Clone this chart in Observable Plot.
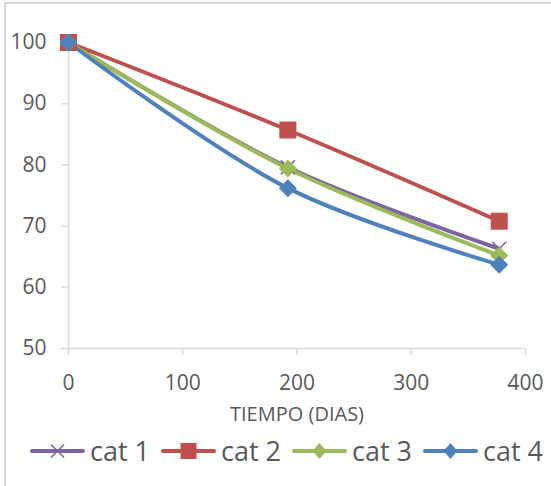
<!DOCTYPE html>
<html>
<head>
<meta charset="utf-8">
<script src="https://cdn.jsdelivr.net/npm/d3@7"></script>
<script src="https://cdn.jsdelivr.net/npm/@observablehq/plot@0.6"></script>
<style>
  html, body { margin: 0; padding: 0; background: #fff; overflow: hidden; width: 551px; height: 486px; }
  #wrap { position: relative; width: 551px; height: 486px; font-family: "Open Sans", sans-serif; }
  #border { position: absolute; left: 4px; top: 2px; width: 700px; height: 700px; border: 2px solid #D9D9D9; box-sizing: border-box; }
  #chart { position: absolute; left: 0; top: 0; }
  #legend { position: absolute; left: 30px; top: 437px; height: 28px; display: flex; align-items: center; }
  .item { display: flex; align-items: center; width: 131px; }
  .item span { font-size: 27px; color: #595959; margin-left: 5px; line-height: 28px; }
</style>
</head>
<body>
<div id="wrap">
  <div id="border"></div>
  <div id="chart"></div>
  <div id="legend"></div>
</div>
<script>
const days = [0, 192, 377];
const seriesNames = ["cat 1", "cat 2", "cat 3", "cat 4"];
const cat1 = [100, 79.6, 66.3];
const cat2 = [100, 85.7, 70.8];
const cat3 = [100, 79.4, 65.2];
const cat4 = [100, 76.2, 63.7];
const xTicks = [0, 100, 200, 300, 400];
const yTicks = [50, 60, 70, 80, 90, 100];
const xLabel = "TIEMPO (DIAS)";

const colors = ["#8064A2", "#C0504D", "#9BBB59", "#4F81BD"];
const allValues = [cat1, cat2, cat3, cat4];

const rows = [];
seriesNames.forEach((name, i) => {
  days.forEach((d, j) => rows.push({series: name, day: d, value: allValues[i][j]}));
});

// custom symbols: r passed to dot = half-width in px
const half = size => Math.sqrt(size / Math.PI);
const squareSym = { draw(ctx, size) { const r = half(size); ctx.rect(-r, -r, 2 * r, 2 * r); } };
const diamondSym = { draw(ctx, size) { const r = half(size); ctx.moveTo(0, -r); ctx.lineTo(r, 0); ctx.lineTo(0, r); ctx.lineTo(-r, 0); ctx.closePath(); } };
const timesSym = { draw(ctx, size) { const r = half(size); ctx.moveTo(-r, -r); ctx.lineTo(r, r); ctx.moveTo(r, -r); ctx.lineTo(-r, r); } };

const markerSpec = [
  {symbol: timesSym, r: 7, strokeW: 1.6, isStroke: true},
  {symbol: squareSym, r: 8.5},
  {symbol: diamondSym, r: 9},
  {symbol: diamondSym, r: 9}
];

const marks = [
  Plot.axisY({ticks: yTicks, tickSize: 7, tickPadding: 15, stroke: "#D9D9D9", strokeWidth: 1.5,
    color: "#595959", fontSize: 21, label: null}),
  Plot.axisX({ticks: xTicks, tickSize: 7, tickPadding: 20, stroke: "#D9D9D9", strokeWidth: 1.5,
    color: "#595959", fontSize: 21, tickFormat: d => String(d),
    label: xLabel, labelAnchor: "center", labelArrow: "none", labelOffset: 72}),
  Plot.ruleX([0], {stroke: "#D9D9D9", strokeWidth: 1.5}),
  Plot.ruleY([50], {stroke: "#D9D9D9", strokeWidth: 1.5}),
];

seriesNames.forEach((name, i) => {
  const data = rows.filter(r => r.series === name);
  marks.push(Plot.line(data, {x: "day", y: "value", stroke: colors[i], strokeWidth: 4, curve: "catmull-rom"}));
});
seriesNames.forEach((name, i) => {
  const data = rows.filter(r => r.series === name);
  const m = markerSpec[i];
  if (m.isStroke) {
    marks.push(Plot.dot(data, {x: "day", y: "value", symbol: m.symbol, r: m.r, fill: "none", stroke: colors[i], strokeWidth: m.strokeW}));
  } else {
    marks.push(Plot.dot(data, {x: "day", y: "value", symbol: m.symbol, r: m.r, fill: colors[i], stroke: "none"}));
  }
});

const chart = Plot.plot({
  width: 551,
  height: 437,
  marginLeft: 68,
  marginRight: 26,
  marginTop: 42,
  marginBottom: 89,
  style: {fontFamily: "'Open Sans', sans-serif", fontSize: "20px", color: "#595959", background: "transparent", overflow: "visible"},
  x: {domain: [0, 400]},
  y: {domain: [50, 100]},
  marks
});
chart.querySelectorAll("[aria-label='x-axis label'] text, g[aria-label='x-axis label']").forEach(el => el.setAttribute("font-size", 20));
document.getElementById("chart").appendChild(chart);

// legend
const legend = document.getElementById("legend");
const ns = "http://www.w3.org/2000/svg";
seriesNames.forEach((name, i) => {
  const item = document.createElement("div");
  item.className = "item";
  const svg = document.createElementNS(ns, "svg");
  svg.setAttribute("width", 55);
  svg.setAttribute("height", 24);
  const line = document.createElementNS(ns, "line");
  line.setAttribute("x1", 2); line.setAttribute("x2", 53);
  line.setAttribute("y1", 12); line.setAttribute("y2", 12);
  line.setAttribute("stroke", colors[i]); line.setAttribute("stroke-width", 4);
  line.setAttribute("stroke-linecap", "round");
  svg.appendChild(line);
  const cx = 27.5, cy = 12;
  let shape;
  if (i === 0) {
    shape = document.createElementNS(ns, "path");
    const r = 6.5;
    shape.setAttribute("d", `M${cx - r},${cy - r}L${cx + r},${cy + r}M${cx + r},${cy - r}L${cx - r},${cy + r}`);
    shape.setAttribute("stroke", colors[i]); shape.setAttribute("stroke-width", 1.6); shape.setAttribute("fill", "none");
  } else if (i === 1) {
    shape = document.createElementNS(ns, "rect");
    const r = 8;
    shape.setAttribute("x", cx - r); shape.setAttribute("y", cy - r);
    shape.setAttribute("width", 2 * r); shape.setAttribute("height", 2 * r);
    shape.setAttribute("fill", colors[i]);
  } else {
    shape = document.createElementNS(ns, "path");
    const rx = 7, ry = 8;
    shape.setAttribute("d", `M${cx},${cy - ry}L${cx + rx},${cy}L${cx},${cy + ry}L${cx - rx},${cy}Z`);
    shape.setAttribute("fill", colors[i]);
  }
  svg.appendChild(shape);
  item.appendChild(svg);
  const span = document.createElement("span");
  span.textContent = name;
  item.appendChild(span);
  legend.appendChild(item);
});
</script>
</body>
</html>
